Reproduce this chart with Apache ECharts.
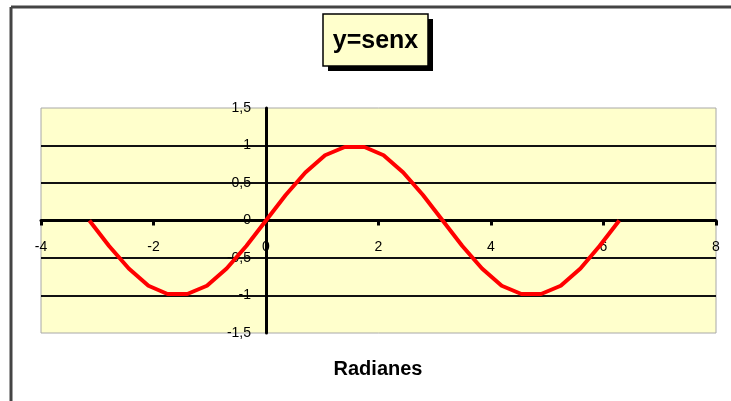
<!DOCTYPE html>
<html>
<head>
<meta charset="utf-8">
<script src="https://cdn.jsdelivr.net/npm/echarts@6/dist/echarts.min.js"></script>
<style>
  html, body { margin: 0; padding: 0; background: #fff; }
  #chart { width: 731px; height: 401px; }
</style>
</head>
<body>
<div id="chart"></div>
<script>
// puntos de la curva (radianes, seno)
var xData = [-3.14, -2.79, -2.44, -2.09, -1.75, -1.40, -1.05, -0.70, -0.35, 0, 0.35, 0.70, 1.05, 1.40,
  1.75, 2.09, 2.44, 2.79, 3.14, 3.49, 3.84, 4.19, 4.54, 4.89, 5.24, 5.59, 5.93, 6.28]
var yData = [0, -0.34, -0.64, -0.87, -0.98, -0.98, -0.87, -0.64, -0.34, 0, 0.34, 0.64, 0.87, 0.98,
  0.98, 0.87, 0.64, 0.34, 0, -0.34, -0.64, -0.87, -0.98, -0.98, -0.87, -0.64, -0.34, 0]

// marcas de los ejes
var xTicks = [-4, -2, 0, 2, 4, 6, 8]
var yTicks = [-1.5, -1, -0.5, 0, 0.5, 1, 1.5]

var titulo = 'y=senx'
var nombreX = 'Radianes'

var puntos = xData.map(function (x, i) { return [x, yData[i]] })
var fuente = '"Liberation Sans", Arial, sans-serif'

// area de trazado
var gLeft = 41, gTop = 108, gW = 675, gH = 225

var chart = echarts.init(document.getElementById('chart'))
chart.setOption({
  animation: false,
  backgroundColor: '#fff',
  grid: {
    left: gLeft, top: gTop, width: gW, height: gH,
    show: true, backgroundColor: '#FFFFCC', borderColor: '#a8a8a8', borderWidth: 1
  },
  xAxis: {
    type: 'value', position: 'bottom',
    // el eje cruza en y=0 (mitad del area)
    offset: -gH / 2,
    min: xTicks[0], max: xTicks[xTicks.length - 1], interval: xTicks[1] - xTicks[0],
    axisLine: { onZero: false, lineStyle: { color: '#000', width: 3 } },
    axisTick: { show: true, length: 5, lineStyle: { color: '#000', width: 3 } },
    axisLabel: { margin: 20, fontSize: 14, color: '#000', fontFamily: fuente },
    splitLine: { show: false }
  },
  yAxis: {
    type: 'value', position: 'left',
    // el eje cruza en x=0
    offset: -gW / 3,
    min: yTicks[0], max: yTicks[yTicks.length - 1], interval: yTicks[1] - yTicks[0],
    axisLine: { onZero: false, lineStyle: { color: '#000', width: 3 } },
    axisTick: { show: false },
    axisLabel: {
      margin: 15, fontSize: 14, color: '#000', fontFamily: fuente,
      formatter: function (v) { return String(v).replace('.', ',') }
    },
    splitLine: { show: true, showMinLine: false, showMaxLine: false, lineStyle: { color: '#111', width: 2 } }
  },
  series: [{
    type: 'line',
    data: puntos,
    showSymbol: false,
    smooth: false,
    lineStyle: { color: '#ff0000', width: 4 },
    z: 5
  }],
  graphic: [
    // marco exterior
    { type: 'line', shape: { x1: 11, y1: 7, x2: 731, y2: 7 }, style: { stroke: '#444', lineWidth: 3 } },
    { type: 'line', shape: { x1: 11, y1: 7, x2: 11, y2: 401 }, style: { stroke: '#444', lineWidth: 3 } },
    // titulo con sombra
    { type: 'rect', shape: { x: 328, y: 19, width: 105, height: 52 }, style: { fill: '#000' } },
    { type: 'rect', shape: { x: 323, y: 14, width: 105, height: 52 }, style: { fill: '#FFFFCC', stroke: '#000', lineWidth: 1.5 } },
    {
      type: 'text', x: 375.5, y: 41,
      style: { text: titulo, fontSize: 25, fontWeight: 'bold', fontFamily: fuente, fill: '#000', align: 'center', verticalAlign: 'middle' }
    },
    {
      type: 'text', x: 378, y: 369,
      style: { text: nombreX, fontSize: 20, fontWeight: 'bold', fontFamily: fuente, fill: '#000', align: 'center', verticalAlign: 'middle' }
    }
  ]
})
</script>
</body>
</html>
